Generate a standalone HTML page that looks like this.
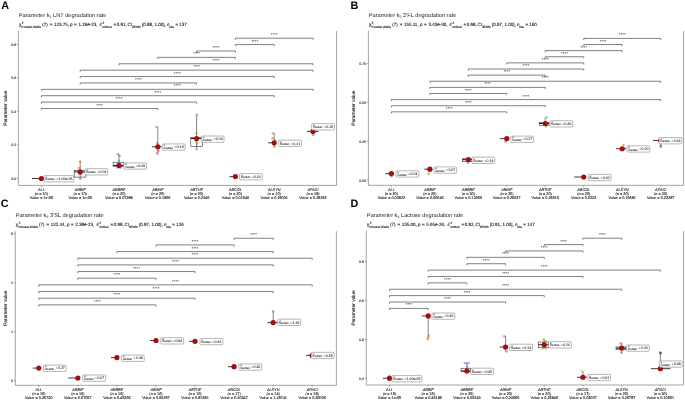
<!DOCTYPE html><html><head><meta charset="utf-8"><style>html,body{margin:0;padding:0;background:#fff;}svg{display:block;will-change:transform;}text{font-family:"Liberation Sans", sans-serif;text-rendering:geometricPrecision;}.sm{fill:#1a1a1a;stroke:#1a1a1a;stroke-width:0.1px;}</style></head><body>
<svg width="685" height="400" viewBox="0 0 685 400">
<rect width="685" height="400" fill="#fff"/>
<text x="1.2" y="8.9" font-size="10.8" font-weight="bold" fill="#000">A</text>
<text x="18.8" y="17.35" font-size="5.65" fill="#222">Parameter k<tspan font-size="3.6" dy="1">1</tspan><tspan dy="-1"> LNT degradation rate</tspan></text>
<text font-size="4.5" class="sm"><tspan x="18.9" y="26.4">χ</tspan><tspan x="21.8" y="24.1" font-size="3.1">2</tspan><tspan x="21.6" y="27.5" font-size="3.1">Kruskal-Wallis</tspan><tspan x="42.2" y="26.4">(7)</tspan><tspan x="49.7" y="26.4">=</tspan><tspan x="53.9" y="26.4">123.75,</tspan><tspan x="70" y="26.4" font-style="italic">p</tspan><tspan x="74" y="26.4">=</tspan><tspan x="78.4" y="26.4">1.26e-23,</tspan><tspan x="99.5" y="26.4">ε̂</tspan><tspan x="102.5" y="24.1" font-size="3.1">2</tspan><tspan x="102.3" y="27.5" font-size="3.1">ordinal</tspan><tspan x="113.5" y="26.4">=</tspan><tspan x="116.8" y="26.4">0.91,</tspan><tspan x="127.5" y="26.4">CI</tspan><tspan x="131.9" y="27.5" font-size="3.1">95%%</tspan><tspan x="142" y="26.4">[0.88, 1.00],</tspan><tspan x="167.1" y="26.4" font-style="italic">n</tspan><tspan x="169.1" y="27.5" font-size="3.1">obs</tspan><tspan x="175.4" y="26.4">=</tspan><tspan x="179.3" y="26.4">137</tspan></text>
<path d="M18.4 31V185.4H336.6V31" fill="none" stroke="#9a9a9a" stroke-width="0.9"/>
<path d="M17 178.4H18.4" stroke="#777" stroke-width="0.7"/>
<text x="16.2" y="179.7" font-size="3.6" class="sm" text-anchor="end">0.0</text>
<path d="M17 144.9H18.4" stroke="#777" stroke-width="0.7"/>
<text x="16.2" y="146.2" font-size="3.6" class="sm" text-anchor="end">0.2</text>
<path d="M17 111.4H18.4" stroke="#777" stroke-width="0.7"/>
<text x="16.2" y="112.7" font-size="3.6" class="sm" text-anchor="end">0.4</text>
<path d="M17 77.9H18.4" stroke="#777" stroke-width="0.7"/>
<text x="16.2" y="79.2" font-size="3.6" class="sm" text-anchor="end">0.6</text>
<path d="M17 44.4H18.4" stroke="#777" stroke-width="0.7"/>
<text x="16.2" y="45.7" font-size="3.6" class="sm" text-anchor="end">0.8</text>
<text x="0" y="0" font-size="4.8" class="sm" text-anchor="middle" transform="translate(6.9 108.2) rotate(-90)">Parameter value</text>
<path d="M41.4 185.4V186.8" stroke="#777" stroke-width="0.7"/>
<text x="41.4" y="190.9" font-size="3.8" class="sm" font-style="italic" text-anchor="middle">ALL</text>
<text x="41.4" y="195.1" font-size="3.8" class="sm" text-anchor="middle">(<tspan font-style="italic">n</tspan> = 10)</text>
<text x="41.4" y="199.2" font-size="3.8" class="sm" text-anchor="middle">Value = 1e-05</text>
<path d="M80.2 185.4V186.8" stroke="#777" stroke-width="0.7"/>
<text x="80.2" y="190.9" font-size="3.8" class="sm" font-style="italic" text-anchor="middle">ΔBBIF</text>
<text x="80.2" y="195.1" font-size="3.8" class="sm" text-anchor="middle">(<tspan font-style="italic">n</tspan> = 10)</text>
<text x="80.2" y="199.2" font-size="3.8" class="sm" text-anchor="middle">Value = 1e-05</text>
<path d="M119 185.4V186.8" stroke="#777" stroke-width="0.7"/>
<text x="119" y="190.9" font-size="3.8" class="sm" font-style="italic" text-anchor="middle">ΔBBRE</text>
<text x="119" y="195.1" font-size="3.8" class="sm" text-anchor="middle">(<tspan font-style="italic">n</tspan> = 20)</text>
<text x="119" y="199.2" font-size="3.8" class="sm" text-anchor="middle">Value = 0.07288</text>
<path d="M157.8 185.4V186.8" stroke="#777" stroke-width="0.7"/>
<text x="157.8" y="190.9" font-size="3.8" class="sm" font-style="italic" text-anchor="middle">ΔBINF</text>
<text x="157.8" y="195.1" font-size="3.8" class="sm" text-anchor="middle">(<tspan font-style="italic">n</tspan> = 20)</text>
<text x="157.8" y="199.2" font-size="3.8" class="sm" text-anchor="middle">Value = 0.1859</text>
<path d="M196.6 185.4V186.8" stroke="#777" stroke-width="0.7"/>
<text x="196.6" y="190.9" font-size="3.8" class="sm" font-style="italic" text-anchor="middle">ΔBTHE</text>
<text x="196.6" y="195.1" font-size="3.8" class="sm" text-anchor="middle">(<tspan font-style="italic">n</tspan> = 20)</text>
<text x="196.6" y="199.2" font-size="3.8" class="sm" text-anchor="middle">Value = 0.2346</text>
<path d="M235.4 185.4V186.8" stroke="#777" stroke-width="0.7"/>
<text x="235.4" y="190.9" font-size="3.8" class="sm" font-style="italic" text-anchor="middle">ΔBCOL</text>
<text x="235.4" y="195.1" font-size="3.8" class="sm" text-anchor="middle">(<tspan font-style="italic">n</tspan> = 20)</text>
<text x="235.4" y="199.2" font-size="3.8" class="sm" text-anchor="middle">Value = 0.01646</text>
<path d="M274.2 185.4V186.8" stroke="#777" stroke-width="0.7"/>
<text x="274.2" y="190.9" font-size="3.8" class="sm" font-style="italic" text-anchor="middle">ΔLSYN</text>
<text x="274.2" y="195.1" font-size="3.8" class="sm" text-anchor="middle">(<tspan font-style="italic">n</tspan> = 10)</text>
<text x="274.2" y="199.2" font-size="3.8" class="sm" text-anchor="middle">Value = 0.25001</text>
<path d="M313 185.4V186.8" stroke="#777" stroke-width="0.7"/>
<text x="313" y="190.9" font-size="3.8" class="sm" font-style="italic" text-anchor="middle">ΔPACI</text>
<text x="313" y="195.1" font-size="3.8" class="sm" text-anchor="middle">(<tspan font-style="italic">n</tspan> = 18)</text>
<text x="313" y="199.2" font-size="3.8" class="sm" text-anchor="middle">Value = 0.28252</text>
<path d="M235.4 39.8V38.2H313V39.8" fill="none" stroke="#555" stroke-width="0.75"/>
<text x="274.2" y="36.25" font-size="4.4" fill="#2a2a2a" text-anchor="middle">****</text>
<path d="M235.4 46.19V44.59H274.2V46.19" fill="none" stroke="#555" stroke-width="0.75"/>
<text x="254.8" y="42.64" font-size="4.4" fill="#2a2a2a" text-anchor="middle">****</text>
<path d="M196.6 52.58V50.98H235.4V52.58" fill="none" stroke="#555" stroke-width="0.75"/>
<text x="216" y="49.03" font-size="4.4" fill="#2a2a2a" text-anchor="middle">****</text>
<path d="M157.8 58.97V57.37H235.4V58.97" fill="none" stroke="#555" stroke-width="0.75"/>
<text x="196.6" y="55.42" font-size="4.4" fill="#2a2a2a" text-anchor="middle">****</text>
<path d="M119 65.36V63.76H313V65.36" fill="none" stroke="#555" stroke-width="0.75"/>
<text x="216" y="61.81" font-size="4.4" fill="#2a2a2a" text-anchor="middle">****</text>
<path d="M80.2 71.75V70.15H313V71.75" fill="none" stroke="#555" stroke-width="0.75"/>
<text x="196.6" y="68.2" font-size="4.4" fill="#2a2a2a" text-anchor="middle">****</text>
<path d="M80.2 78.14V76.54H274.2V78.14" fill="none" stroke="#555" stroke-width="0.75"/>
<text x="177.2" y="74.59" font-size="4.4" fill="#2a2a2a" text-anchor="middle">****</text>
<path d="M80.2 84.53V82.93H196.6V84.53" fill="none" stroke="#555" stroke-width="0.75"/>
<text x="138.4" y="80.98" font-size="4.4" fill="#2a2a2a" text-anchor="middle">****</text>
<path d="M41.4 90.92V89.32H313V90.92" fill="none" stroke="#555" stroke-width="0.75"/>
<text x="177.2" y="87.37" font-size="4.4" fill="#2a2a2a" text-anchor="middle">****</text>
<path d="M41.4 97.31V95.71H274.2V97.31" fill="none" stroke="#555" stroke-width="0.75"/>
<text x="157.8" y="93.76" font-size="4.4" fill="#2a2a2a" text-anchor="middle">****</text>
<path d="M41.4 103.7V102.1H196.6V103.7" fill="none" stroke="#555" stroke-width="0.75"/>
<text x="119" y="100.15" font-size="4.4" fill="#2a2a2a" text-anchor="middle">****</text>
<path d="M41.4 110.09V108.49H157.8V110.09" fill="none" stroke="#555" stroke-width="0.75"/>
<text x="99.6" y="106.54" font-size="4.4" fill="#2a2a2a" text-anchor="middle">****</text>
<path d="M31.9 178.5H41.5" stroke="#222" stroke-width="0.9"/>
<circle cx="41.4" cy="178.5" r="2.6" fill="#a30e0e"/>
<rect x="44" y="175.6" width="29.81" height="6.3" rx="0.9" fill="#fff" stroke="#858585" stroke-width="0.6"/>
<text fill="#1a1a1a" stroke="#1a1a1a" stroke-width="0.06"><tspan x="45.5" y="177.9" font-size="2.4">μ̂</tspan><tspan x="45.3" y="180.35" font-size="2.9">median</tspan><tspan x="56.2" y="179.9" font-size="3.5">=</tspan><tspan x="58.6" y="179.9" font-size="3.5">1.00e-05</tspan></text>
<rect x="74.2" y="170.4" width="11.7" height="6.7" fill="none" stroke="#333" stroke-width="0.6"/>
<path d="M80.2 161.5V178.7" stroke="#333" stroke-width="0.6"/>
<path d="M74.2 171.9H85.9" stroke="#1a1a1a" stroke-width="1"/>
<circle cx="80.2" cy="161.5" r="1.3" fill="#D95F02" fill-opacity="0.55"/>
<circle cx="78.9" cy="168" r="1.3" fill="#D95F02" fill-opacity="0.55"/>
<circle cx="80.2" cy="178.7" r="1.3" fill="#D95F02" fill-opacity="0.55"/>
<circle cx="80.2" cy="171.9" r="2.6" fill="#a30e0e"/>
<rect x="84.95" y="168.7" width="22.81" height="6.3" rx="0.9" fill="#fff" stroke="#858585" stroke-width="0.6"/>
<text fill="#1a1a1a" stroke="#1a1a1a" stroke-width="0.06"><tspan x="86.45" y="171" font-size="2.4">μ̂</tspan><tspan x="86.25" y="173.45" font-size="2.9">median</tspan><tspan x="97.15" y="173" font-size="3.5">=</tspan><tspan x="99.55" y="173" font-size="3.5">0.04</tspan></text>
<rect x="113.1" y="162.2" width="10.5" height="4.4" fill="none" stroke="#333" stroke-width="0.6"/>
<path d="M119 154V162.4" stroke="#333" stroke-width="0.6"/>
<path d="M113.1 165.4H123.6" stroke="#1a1a1a" stroke-width="1"/>
<circle cx="117.7" cy="154" r="1.3" fill="#7570B3" fill-opacity="0.55"/>
<circle cx="119.7" cy="155.8" r="1.3" fill="#7570B3" fill-opacity="0.55"/>
<circle cx="118.8" cy="160.9" r="1.3" fill="#7570B3" fill-opacity="0.55"/>
<circle cx="117.7" cy="167.8" r="1.3" fill="#7570B3" fill-opacity="0.55"/>
<circle cx="120.3" cy="167.8" r="1.3" fill="#7570B3" fill-opacity="0.55"/>
<circle cx="119" cy="165.4" r="2.6" fill="#a30e0e"/>
<rect x="123.75" y="162.9" width="22.81" height="6.3" rx="0.9" fill="#fff" stroke="#858585" stroke-width="0.6"/>
<text fill="#1a1a1a" stroke="#1a1a1a" stroke-width="0.06"><tspan x="125.25" y="165.2" font-size="2.4">μ̂</tspan><tspan x="125.05" y="167.65" font-size="2.9">median</tspan><tspan x="135.95" y="167.2" font-size="3.5">=</tspan><tspan x="138.35" y="167.2" font-size="3.5">0.08</tspan></text>
<path d="M157.8 127V153.5" stroke="#333" stroke-width="0.6"/>
<path d="M151.9 146.8H161.8" stroke="#222" stroke-width="0.9"/>
<circle cx="156.6" cy="127" r="1.3" fill="#E7298A" fill-opacity="0.55"/>
<circle cx="157.3" cy="143.2" r="1.3" fill="#E7298A" fill-opacity="0.55"/>
<circle cx="158.4" cy="150.8" r="1.3" fill="#E7298A" fill-opacity="0.55"/>
<circle cx="157.1" cy="153.5" r="1.3" fill="#E7298A" fill-opacity="0.55"/>
<circle cx="157.8" cy="146.8" r="2.6" fill="#a30e0e"/>
<rect x="162.25" y="143.9" width="22.81" height="6.3" rx="0.9" fill="#fff" stroke="#858585" stroke-width="0.6"/>
<text fill="#1a1a1a" stroke="#1a1a1a" stroke-width="0.06"><tspan x="163.75" y="146.2" font-size="2.4">μ̂</tspan><tspan x="163.55" y="148.65" font-size="2.9">median</tspan><tspan x="174.45" y="148.2" font-size="3.5">=</tspan><tspan x="176.85" y="148.2" font-size="3.5">0.19</tspan></text>
<rect x="190.8" y="137.3" width="11.5" height="9.2" fill="none" stroke="#333" stroke-width="0.6"/>
<path d="M196.6 114.7V148.7" stroke="#333" stroke-width="0.6"/>
<path d="M190.8 138.5H202.3" stroke="#1a1a1a" stroke-width="1"/>
<circle cx="196.9" cy="114.7" r="1.3" fill="#66A61E" fill-opacity="0.55"/>
<circle cx="196.6" cy="133.5" r="1.3" fill="#66A61E" fill-opacity="0.55"/>
<circle cx="196.1" cy="141.5" r="1.3" fill="#66A61E" fill-opacity="0.55"/>
<circle cx="197.4" cy="143.5" r="1.3" fill="#66A61E" fill-opacity="0.55"/>
<circle cx="196.6" cy="149.2" r="1.3" fill="#66A61E" fill-opacity="0.55"/>
<circle cx="196.6" cy="138.5" r="2.6" fill="#a30e0e"/>
<rect x="201.25" y="136" width="22.81" height="6.3" rx="0.9" fill="#fff" stroke="#858585" stroke-width="0.6"/>
<text fill="#1a1a1a" stroke="#1a1a1a" stroke-width="0.06"><tspan x="202.75" y="138.3" font-size="2.4">μ̂</tspan><tspan x="202.55" y="140.75" font-size="2.9">median</tspan><tspan x="213.45" y="140.3" font-size="3.5">=</tspan><tspan x="215.85" y="140.3" font-size="3.5">0.24</tspan></text>
<path d="M229.5 176.6H235.2" stroke="#222" stroke-width="0.9"/>
<circle cx="235.4" cy="176.6" r="2.6" fill="#a30e0e"/>
<rect x="239.6" y="173.6" width="22.81" height="6.3" rx="0.9" fill="#fff" stroke="#858585" stroke-width="0.6"/>
<text fill="#1a1a1a" stroke="#1a1a1a" stroke-width="0.06"><tspan x="241.1" y="175.9" font-size="2.4">μ̂</tspan><tspan x="240.9" y="178.35" font-size="2.9">median</tspan><tspan x="251.8" y="177.9" font-size="3.5">=</tspan><tspan x="254.2" y="177.9" font-size="3.5">0.01</tspan></text>
<path d="M274.2 133.2V146.4" stroke="#333" stroke-width="0.6"/>
<path d="M268.1 142.8H274.3" stroke="#222" stroke-width="0.9"/>
<circle cx="272.9" cy="133.2" r="1.3" fill="#A6761D" fill-opacity="0.55"/>
<circle cx="272.6" cy="138.4" r="1.3" fill="#A6761D" fill-opacity="0.55"/>
<circle cx="274.5" cy="146.4" r="1.3" fill="#A6761D" fill-opacity="0.55"/>
<circle cx="275.2" cy="140.5" r="1.3" fill="#A6761D" fill-opacity="0.55"/>
<circle cx="274.2" cy="142.8" r="2.6" fill="#a30e0e"/>
<rect x="278.7" y="140.2" width="22.81" height="6.3" rx="0.9" fill="#fff" stroke="#858585" stroke-width="0.6"/>
<text fill="#1a1a1a" stroke="#1a1a1a" stroke-width="0.06"><tspan x="280.2" y="142.5" font-size="2.4">μ̂</tspan><tspan x="280" y="144.95" font-size="2.9">median</tspan><tspan x="290.9" y="144.5" font-size="3.5">=</tspan><tspan x="293.3" y="144.5" font-size="3.5">0.21</tspan></text>
<path d="M307 131.4H318.7" stroke="#222" stroke-width="0.9"/>
<circle cx="313.3" cy="134.9" r="1.3" fill="#666666" fill-opacity="0.55"/>
<circle cx="313" cy="131.4" r="2.6" fill="#a30e0e"/>
<rect x="311.7" y="123.7" width="22.81" height="6.3" rx="0.9" fill="#fff" stroke="#858585" stroke-width="0.6"/>
<text fill="#1a1a1a" stroke="#1a1a1a" stroke-width="0.06"><tspan x="313.2" y="126" font-size="2.4">μ̂</tspan><tspan x="313" y="128.45" font-size="2.9">median</tspan><tspan x="323.9" y="128" font-size="3.5">=</tspan><tspan x="326.3" y="128" font-size="3.5">0.28</tspan></text>
<text x="350.4" y="9" font-size="10.8" font-weight="bold" fill="#000">B</text>
<text x="368.8" y="17.35" font-size="5.65" fill="#222">Parameter k<tspan font-size="3.6" dy="1">2</tspan><tspan dy="-1"> 2'FL degradation rate</tspan></text>
<text font-size="4.5" class="sm"><tspan x="368.9" y="26.4">χ</tspan><tspan x="371.8" y="24.1" font-size="3.1">2</tspan><tspan x="371.6" y="27.5" font-size="3.1">Kruskal-Wallis</tspan><tspan x="392.2" y="26.4">(7)</tspan><tspan x="399.7" y="26.4">=</tspan><tspan x="403.9" y="26.4">155.11,</tspan><tspan x="420" y="26.4" font-style="italic">p</tspan><tspan x="424" y="26.4">=</tspan><tspan x="428.4" y="26.4">3.43e-30,</tspan><tspan x="449.5" y="26.4">ε̂</tspan><tspan x="452.5" y="24.1" font-size="3.1">2</tspan><tspan x="452.3" y="27.5" font-size="3.1">ordinal</tspan><tspan x="463.5" y="26.4">=</tspan><tspan x="466.8" y="26.4">0.98,</tspan><tspan x="477.5" y="26.4">CI</tspan><tspan x="481.9" y="27.5" font-size="3.1">95%%</tspan><tspan x="492" y="26.4">[0.97, 1.00],</tspan><tspan x="517.1" y="26.4" font-style="italic">n</tspan><tspan x="519.1" y="27.5" font-size="3.1">obs</tspan><tspan x="525.4" y="26.4">=</tspan><tspan x="529.3" y="26.4">160</tspan></text>
<path d="M368.4 30.9V185.3H683.6V30.9" fill="none" stroke="#9a9a9a" stroke-width="0.9"/>
<path d="M367 180.2H368.4" stroke="#777" stroke-width="0.7"/>
<text x="366.2" y="181.5" font-size="3.6" class="sm" text-anchor="end">0.00</text>
<path d="M367 141.32H368.4" stroke="#777" stroke-width="0.7"/>
<text x="366.2" y="142.62" font-size="3.6" class="sm" text-anchor="end">0.25</text>
<path d="M367 102.45H368.4" stroke="#777" stroke-width="0.7"/>
<text x="366.2" y="103.75" font-size="3.6" class="sm" text-anchor="end">0.50</text>
<path d="M367 63.57H368.4" stroke="#777" stroke-width="0.7"/>
<text x="366.2" y="64.87" font-size="3.6" class="sm" text-anchor="end">0.75</text>
<text x="0" y="0" font-size="4.8" class="sm" text-anchor="middle" transform="translate(354.5 108.1) rotate(-90)">Parameter value</text>
<path d="M391.4 185.3V186.7" stroke="#777" stroke-width="0.7"/>
<text x="391.4" y="190.8" font-size="3.8" class="sm" font-style="italic" text-anchor="middle">ALL</text>
<text x="391.4" y="195" font-size="3.8" class="sm" text-anchor="middle">(<tspan font-style="italic">n</tspan> = 20)</text>
<text x="391.4" y="199.1" font-size="3.8" class="sm" text-anchor="middle">Value = 0.03822</text>
<path d="M429.87 185.3V186.7" stroke="#777" stroke-width="0.7"/>
<text x="429.87" y="190.8" font-size="3.8" class="sm" font-style="italic" text-anchor="middle">ΔBBIF</text>
<text x="429.87" y="195" font-size="3.8" class="sm" text-anchor="middle">(<tspan font-style="italic">n</tspan> = 20)</text>
<text x="429.87" y="199.1" font-size="3.8" class="sm" text-anchor="middle">Value = 0.06045</text>
<path d="M468.34 185.3V186.7" stroke="#777" stroke-width="0.7"/>
<text x="468.34" y="190.8" font-size="3.8" class="sm" font-style="italic" text-anchor="middle">ΔBBRE</text>
<text x="468.34" y="195" font-size="3.8" class="sm" text-anchor="middle">(<tspan font-style="italic">n</tspan> = 20)</text>
<text x="468.34" y="199.1" font-size="3.8" class="sm" text-anchor="middle">Value = 0.13066</text>
<path d="M506.81 185.3V186.7" stroke="#777" stroke-width="0.7"/>
<text x="506.81" y="190.8" font-size="3.8" class="sm" font-style="italic" text-anchor="middle">ΔBINF</text>
<text x="506.81" y="195" font-size="3.8" class="sm" text-anchor="middle">(<tspan font-style="italic">n</tspan> = 20)</text>
<text x="506.81" y="199.1" font-size="3.8" class="sm" text-anchor="middle">Value = 0.26527</text>
<path d="M545.28 185.3V186.7" stroke="#777" stroke-width="0.7"/>
<text x="545.28" y="190.8" font-size="3.8" class="sm" font-style="italic" text-anchor="middle">ΔBTHE</text>
<text x="545.28" y="195" font-size="3.8" class="sm" text-anchor="middle">(<tspan font-style="italic">n</tspan> = 20)</text>
<text x="545.28" y="199.1" font-size="3.8" class="sm" text-anchor="middle">Value = 0.35916</text>
<path d="M583.75 185.3V186.7" stroke="#777" stroke-width="0.7"/>
<text x="583.75" y="190.8" font-size="3.8" class="sm" font-style="italic" text-anchor="middle">ΔBCOL</text>
<text x="583.75" y="195" font-size="3.8" class="sm" text-anchor="middle">(<tspan font-style="italic">n</tspan> = 20)</text>
<text x="583.75" y="199.1" font-size="3.8" class="sm" text-anchor="middle">Value = 0.0202</text>
<path d="M622.22 185.3V186.7" stroke="#777" stroke-width="0.7"/>
<text x="622.22" y="190.8" font-size="3.8" class="sm" font-style="italic" text-anchor="middle">ΔLSYN</text>
<text x="622.22" y="195" font-size="3.8" class="sm" text-anchor="middle">(<tspan font-style="italic">n</tspan> = 20)</text>
<text x="622.22" y="199.1" font-size="3.8" class="sm" text-anchor="middle">Value = 0.19681</text>
<path d="M660.69 185.3V186.7" stroke="#777" stroke-width="0.7"/>
<text x="660.69" y="190.8" font-size="3.8" class="sm" font-style="italic" text-anchor="middle">ΔPACI</text>
<text x="660.69" y="195" font-size="3.8" class="sm" text-anchor="middle">(<tspan font-style="italic">n</tspan> = 20)</text>
<text x="660.69" y="199.1" font-size="3.8" class="sm" text-anchor="middle">Value = 0.23287</text>
<path d="M583.75 40V38.4H660.69V40" fill="none" stroke="#555" stroke-width="0.75"/>
<text x="622.22" y="36.45" font-size="4.4" fill="#2a2a2a" text-anchor="middle">****</text>
<path d="M583.75 46.12V44.52H622.22V46.12" fill="none" stroke="#555" stroke-width="0.75"/>
<text x="602.99" y="42.57" font-size="4.4" fill="#2a2a2a" text-anchor="middle">****</text>
<path d="M545.28 52.24V50.64H622.22V52.24" fill="none" stroke="#555" stroke-width="0.75"/>
<text x="583.75" y="48.69" font-size="4.4" fill="#2a2a2a" text-anchor="middle">****</text>
<path d="M545.28 58.36V56.76H583.75V58.36" fill="none" stroke="#555" stroke-width="0.75"/>
<text x="564.51" y="54.81" font-size="4.4" fill="#2a2a2a" text-anchor="middle">****</text>
<path d="M506.81 64.48V62.88H583.75V64.48" fill="none" stroke="#555" stroke-width="0.75"/>
<text x="545.28" y="60.93" font-size="4.4" fill="#2a2a2a" text-anchor="middle">****</text>
<path d="M468.34 70.6V69H583.75V70.6" fill="none" stroke="#555" stroke-width="0.75"/>
<text x="526.04" y="67.05" font-size="4.4" fill="#2a2a2a" text-anchor="middle">****</text>
<path d="M468.34 76.72V75.12H545.28V76.72" fill="none" stroke="#555" stroke-width="0.75"/>
<text x="506.81" y="73.17" font-size="4.4" fill="#2a2a2a" text-anchor="middle">****</text>
<path d="M429.87 82.84V81.24H660.69V82.84" fill="none" stroke="#555" stroke-width="0.75"/>
<text x="545.28" y="79.29" font-size="4.4" fill="#2a2a2a" text-anchor="middle">****</text>
<path d="M429.87 88.96V87.36H545.28V88.96" fill="none" stroke="#555" stroke-width="0.75"/>
<text x="487.57" y="85.41" font-size="4.4" fill="#2a2a2a" text-anchor="middle">****</text>
<path d="M429.87 95.08V93.48H506.81V95.08" fill="none" stroke="#555" stroke-width="0.75"/>
<text x="468.34" y="91.53" font-size="4.4" fill="#2a2a2a" text-anchor="middle">****</text>
<path d="M391.4 101.2V99.6H660.69V101.2" fill="none" stroke="#555" stroke-width="0.75"/>
<text x="526.04" y="97.65" font-size="4.4" fill="#2a2a2a" text-anchor="middle">****</text>
<path d="M391.4 107.32V105.72H545.28V107.32" fill="none" stroke="#555" stroke-width="0.75"/>
<text x="468.34" y="103.77" font-size="4.4" fill="#2a2a2a" text-anchor="middle">****</text>
<path d="M391.4 113.44V111.84H506.81V113.44" fill="none" stroke="#555" stroke-width="0.75"/>
<text x="449.1" y="109.89" font-size="4.4" fill="#2a2a2a" text-anchor="middle">****</text>
<path d="M385.3 173.6H391.2" stroke="#222" stroke-width="0.9"/>
<circle cx="391.6" cy="176.2" r="1.3" fill="#1B9E77" fill-opacity="0.55"/>
<circle cx="391.4" cy="173.6" r="2.6" fill="#a30e0e"/>
<rect x="396" y="170.8" width="22.81" height="6.3" rx="0.9" fill="#fff" stroke="#858585" stroke-width="0.6"/>
<text fill="#1a1a1a" stroke="#1a1a1a" stroke-width="0.06"><tspan x="397.5" y="173.1" font-size="2.4">μ̂</tspan><tspan x="397.3" y="175.55" font-size="2.9">median</tspan><tspan x="408.2" y="175.1" font-size="3.5">=</tspan><tspan x="410.6" y="175.1" font-size="3.5">0.04</tspan></text>
<path d="M424.3 169.2H430" stroke="#222" stroke-width="0.9"/>
<circle cx="428.57" cy="173.9" r="1.3" fill="#D95F02" fill-opacity="0.55"/>
<circle cx="429.87" cy="169.2" r="2.6" fill="#a30e0e"/>
<rect x="433.8" y="166.9" width="22.81" height="6.3" rx="0.9" fill="#fff" stroke="#858585" stroke-width="0.6"/>
<text fill="#1a1a1a" stroke="#1a1a1a" stroke-width="0.06"><tspan x="435.3" y="169.2" font-size="2.4">μ̂</tspan><tspan x="435.1" y="171.65" font-size="2.9">median</tspan><tspan x="446" y="171.2" font-size="3.5">=</tspan><tspan x="448.4" y="171.2" font-size="3.5">0.07</tspan></text>
<rect x="462.3" y="158.8" width="9.9" height="2.9" fill="none" stroke="#333" stroke-width="0.6"/>
<path d="M462.3 159.7H472.2" stroke="#1a1a1a" stroke-width="1"/>
<circle cx="467.84" cy="162.9" r="1.3" fill="#7570B3" fill-opacity="0.55"/>
<circle cx="468.34" cy="159.7" r="2.6" fill="#a30e0e"/>
<rect x="472" y="157.2" width="22.81" height="6.3" rx="0.9" fill="#fff" stroke="#858585" stroke-width="0.6"/>
<text fill="#1a1a1a" stroke="#1a1a1a" stroke-width="0.06"><tspan x="473.5" y="159.5" font-size="2.4">μ̂</tspan><tspan x="473.3" y="161.95" font-size="2.9">median</tspan><tspan x="484.2" y="161.5" font-size="3.5">=</tspan><tspan x="486.6" y="161.5" font-size="3.5">0.13</tspan></text>
<path d="M500.1 138.6H506.8" stroke="#222" stroke-width="0.9"/>
<circle cx="505.41" cy="141.5" r="1.3" fill="#E7298A" fill-opacity="0.55"/>
<circle cx="506.81" cy="138.6" r="2.6" fill="#a30e0e"/>
<rect x="510.8" y="136.1" width="22.81" height="6.3" rx="0.9" fill="#fff" stroke="#858585" stroke-width="0.6"/>
<text fill="#1a1a1a" stroke="#1a1a1a" stroke-width="0.06"><tspan x="512.3" y="138.4" font-size="2.4">μ̂</tspan><tspan x="512.1" y="140.85" font-size="2.9">median</tspan><tspan x="523" y="140.4" font-size="3.5">=</tspan><tspan x="525.4" y="140.4" font-size="3.5">0.27</tspan></text>
<rect x="539.25" y="122.5" width="9.75" height="3" fill="none" stroke="#333" stroke-width="0.6"/>
<path d="M545.28 117.5V123.5" stroke="#333" stroke-width="0.6"/>
<path d="M539.25 123.5H549" stroke="#1a1a1a" stroke-width="1"/>
<circle cx="546.78" cy="117.25" r="1.3" fill="#66A61E" fill-opacity="0.55"/>
<circle cx="546.08" cy="126.5" r="1.3" fill="#66A61E" fill-opacity="0.55"/>
<circle cx="545.28" cy="123.5" r="2.6" fill="#a30e0e"/>
<rect x="550" y="120.7" width="22.81" height="6.3" rx="0.9" fill="#fff" stroke="#858585" stroke-width="0.6"/>
<text fill="#1a1a1a" stroke="#1a1a1a" stroke-width="0.06"><tspan x="551.5" y="123" font-size="2.4">μ̂</tspan><tspan x="551.3" y="125.45" font-size="2.9">median</tspan><tspan x="562.2" y="125" font-size="3.5">=</tspan><tspan x="564.6" y="125" font-size="3.5">0.36</tspan></text>
<path d="M574.3 177H583.7" stroke="#222" stroke-width="0.9"/>
<circle cx="583.75" cy="177" r="2.6" fill="#a30e0e"/>
<rect x="588.3" y="174.4" width="22.81" height="6.3" rx="0.9" fill="#fff" stroke="#858585" stroke-width="0.6"/>
<text fill="#1a1a1a" stroke="#1a1a1a" stroke-width="0.06"><tspan x="589.8" y="176.7" font-size="2.4">μ̂</tspan><tspan x="589.6" y="179.15" font-size="2.9">median</tspan><tspan x="600.5" y="178.7" font-size="3.5">=</tspan><tspan x="602.9" y="178.7" font-size="3.5">0.02</tspan></text>
<path d="M616 148.75H626" stroke="#222" stroke-width="0.9"/>
<circle cx="623.42" cy="145" r="1.3" fill="#A6761D" fill-opacity="0.55"/>
<circle cx="622.22" cy="148.75" r="2.6" fill="#a30e0e"/>
<rect x="627" y="145.8" width="22.81" height="6.3" rx="0.9" fill="#fff" stroke="#858585" stroke-width="0.6"/>
<text fill="#1a1a1a" stroke="#1a1a1a" stroke-width="0.06"><tspan x="628.5" y="148.1" font-size="2.4">μ̂</tspan><tspan x="628.3" y="150.55" font-size="2.9">median</tspan><tspan x="639.2" y="150.1" font-size="3.5">=</tspan><tspan x="641.6" y="150.1" font-size="3.5">0.20</tspan></text>
<path d="M660.69 140.5V146.6" stroke="#333" stroke-width="0.6"/>
<path d="M653 140.5H661" stroke="#222" stroke-width="0.9"/>
<circle cx="660.89" cy="146.4" r="1.3" fill="#333" fill-opacity="0.55"/>
<circle cx="660.69" cy="140.5" r="2.6" fill="#a30e0e"/>
<rect x="659.1" y="137.6" width="22.81" height="6.3" rx="0.9" fill="#fff" stroke="#858585" stroke-width="0.6"/>
<text fill="#1a1a1a" stroke="#1a1a1a" stroke-width="0.06"><tspan x="660.6" y="139.9" font-size="2.4">μ̂</tspan><tspan x="660.4" y="142.35" font-size="2.9">median</tspan><tspan x="671.3" y="141.9" font-size="3.5">=</tspan><tspan x="673.7" y="141.9" font-size="3.5">0.23</tspan></text>
<text x="0.7" y="207.2" font-size="10.8" font-weight="bold" fill="#000">C</text>
<text x="15.7" y="217.35" font-size="5.65" fill="#222">Parameter k<tspan font-size="3.6" dy="1">3</tspan><tspan dy="-1"> 3'SL degradation rate</tspan></text>
<text font-size="4.5" class="sm"><tspan x="15.8" y="226.4">χ</tspan><tspan x="18.7" y="224.1" font-size="3.1">2</tspan><tspan x="18.5" y="227.5" font-size="3.1">Kruskal-Wallis</tspan><tspan x="39.1" y="226.4">(7)</tspan><tspan x="46.6" y="226.4">=</tspan><tspan x="50.8" y="226.4">122.44,</tspan><tspan x="66.9" y="226.4" font-style="italic">p</tspan><tspan x="70.9" y="226.4">=</tspan><tspan x="75.3" y="226.4">2.38e-23,</tspan><tspan x="96.4" y="226.4">ε̂</tspan><tspan x="99.4" y="224.1" font-size="3.1">2</tspan><tspan x="99.2" y="227.5" font-size="3.1">ordinal</tspan><tspan x="110.4" y="226.4">=</tspan><tspan x="113.7" y="226.4">0.98,</tspan><tspan x="124.4" y="226.4">CI</tspan><tspan x="128.8" y="227.5" font-size="3.1">95%%</tspan><tspan x="138.9" y="226.4">[0.97, 1.00],</tspan><tspan x="164" y="226.4" font-style="italic">n</tspan><tspan x="166" y="227.5" font-size="3.1">obs</tspan><tspan x="172.3" y="226.4">=</tspan><tspan x="176.2" y="226.4">126</tspan></text>
<path d="M15.3 231.3V385.3H336.4V231.3" fill="none" stroke="#9a9a9a" stroke-width="0.9"/>
<path d="M13.9 380.9H15.3" stroke="#777" stroke-width="0.7"/>
<text x="13.1" y="382.2" font-size="3.6" class="sm" text-anchor="end">0</text>
<path d="M13.9 331.83H15.3" stroke="#777" stroke-width="0.7"/>
<text x="13.1" y="333.13" font-size="3.6" class="sm" text-anchor="end">1</text>
<path d="M13.9 282.76H15.3" stroke="#777" stroke-width="0.7"/>
<text x="13.1" y="284.06" font-size="3.6" class="sm" text-anchor="end">2</text>
<path d="M13.9 233.69H15.3" stroke="#777" stroke-width="0.7"/>
<text x="13.1" y="234.99" font-size="3.6" class="sm" text-anchor="end">3</text>
<text x="0" y="0" font-size="4.8" class="sm" text-anchor="middle" transform="translate(6.9 308.3) rotate(-90)">Parameter value</text>
<path d="M38.8 385.3V386.7" stroke="#777" stroke-width="0.7"/>
<text x="38.8" y="390.8" font-size="3.8" class="sm" font-style="italic" text-anchor="middle">ALL</text>
<text x="38.8" y="395" font-size="3.8" class="sm" text-anchor="middle">(<tspan font-style="italic">n</tspan> = 16)</text>
<text x="38.8" y="399.1" font-size="3.8" class="sm" text-anchor="middle">Value = 0.26730</text>
<path d="M77.86 385.3V386.7" stroke="#777" stroke-width="0.7"/>
<text x="77.86" y="390.8" font-size="3.8" class="sm" font-style="italic" text-anchor="middle">ΔBBIF</text>
<text x="77.86" y="395" font-size="3.8" class="sm" text-anchor="middle">(<tspan font-style="italic">n</tspan> = 16)</text>
<text x="77.86" y="399.1" font-size="3.8" class="sm" text-anchor="middle">Value = 0.07057</text>
<path d="M116.92 385.3V386.7" stroke="#777" stroke-width="0.7"/>
<text x="116.92" y="390.8" font-size="3.8" class="sm" font-style="italic" text-anchor="middle">ΔBBRE</text>
<text x="116.92" y="395" font-size="3.8" class="sm" text-anchor="middle">(<tspan font-style="italic">n</tspan> = 16)</text>
<text x="116.92" y="399.1" font-size="3.8" class="sm" text-anchor="middle">Value = 0.45366</text>
<path d="M155.98 385.3V386.7" stroke="#777" stroke-width="0.7"/>
<text x="155.98" y="390.8" font-size="3.8" class="sm" font-style="italic" text-anchor="middle">ΔBINF</text>
<text x="155.98" y="395" font-size="3.8" class="sm" text-anchor="middle">(<tspan font-style="italic">n</tspan> = 16)</text>
<text x="155.98" y="399.1" font-size="3.8" class="sm" text-anchor="middle">Value = 0.83297</text>
<path d="M195.04 385.3V386.7" stroke="#777" stroke-width="0.7"/>
<text x="195.04" y="390.8" font-size="3.8" class="sm" font-style="italic" text-anchor="middle">ΔBTHE</text>
<text x="195.04" y="395" font-size="3.8" class="sm" text-anchor="middle">(<tspan font-style="italic">n</tspan> = 10)</text>
<text x="195.04" y="399.1" font-size="3.8" class="sm" text-anchor="middle">Value = 0.81581</text>
<path d="M234.1 385.3V386.7" stroke="#777" stroke-width="0.7"/>
<text x="234.1" y="390.8" font-size="3.8" class="sm" font-style="italic" text-anchor="middle">ΔBCOL</text>
<text x="234.1" y="395" font-size="3.8" class="sm" text-anchor="middle">(<tspan font-style="italic">n</tspan> = 17)</text>
<text x="234.1" y="399.1" font-size="3.8" class="sm" text-anchor="middle">Value = 0.30347</text>
<path d="M273.16 385.3V386.7" stroke="#777" stroke-width="0.7"/>
<text x="273.16" y="390.8" font-size="3.8" class="sm" font-style="italic" text-anchor="middle">ΔLSYN</text>
<text x="273.16" y="395" font-size="3.8" class="sm" text-anchor="middle">(<tspan font-style="italic">n</tspan> = 14)</text>
<text x="273.16" y="399.1" font-size="3.8" class="sm" text-anchor="middle">Value = 1.18741</text>
<path d="M312.22 385.3V386.7" stroke="#777" stroke-width="0.7"/>
<text x="312.22" y="390.8" font-size="3.8" class="sm" font-style="italic" text-anchor="middle">ΔPACI</text>
<text x="312.22" y="395" font-size="3.8" class="sm" text-anchor="middle">(<tspan font-style="italic">n</tspan> = 18)</text>
<text x="312.22" y="399.1" font-size="3.8" class="sm" text-anchor="middle">Value = 0.56006</text>
<path d="M234.1 239.85V238.25H273.16V239.85" fill="none" stroke="#555" stroke-width="0.75"/>
<text x="253.63" y="236.3" font-size="4.4" fill="#2a2a2a" text-anchor="middle">****</text>
<path d="M155.98 246.51V244.91H234.1V246.51" fill="none" stroke="#555" stroke-width="0.75"/>
<text x="195.04" y="242.96" font-size="4.4" fill="#2a2a2a" text-anchor="middle">****</text>
<path d="M116.92 253.17V251.57H273.16V253.17" fill="none" stroke="#555" stroke-width="0.75"/>
<text x="195.04" y="249.62" font-size="4.4" fill="#2a2a2a" text-anchor="middle">****</text>
<path d="M77.86 259.83V258.23H312.22V259.83" fill="none" stroke="#555" stroke-width="0.75"/>
<text x="195.04" y="256.28" font-size="4.4" fill="#2a2a2a" text-anchor="middle">****</text>
<path d="M77.86 266.49V264.89H273.16V266.49" fill="none" stroke="#555" stroke-width="0.75"/>
<text x="175.51" y="262.94" font-size="4.4" fill="#2a2a2a" text-anchor="middle">****</text>
<path d="M77.86 273.15V271.55H195.04V273.15" fill="none" stroke="#555" stroke-width="0.75"/>
<text x="136.45" y="269.6" font-size="4.4" fill="#2a2a2a" text-anchor="middle">****</text>
<path d="M77.86 279.81V278.21H155.98V279.81" fill="none" stroke="#555" stroke-width="0.75"/>
<text x="116.92" y="276.26" font-size="4.4" fill="#2a2a2a" text-anchor="middle">****</text>
<path d="M38.8 286.47V284.87H312.22V286.47" fill="none" stroke="#555" stroke-width="0.75"/>
<text x="175.51" y="282.92" font-size="4.4" fill="#2a2a2a" text-anchor="middle">****</text>
<path d="M38.8 293.13V291.53H273.16V293.13" fill="none" stroke="#555" stroke-width="0.75"/>
<text x="155.98" y="289.58" font-size="4.4" fill="#2a2a2a" text-anchor="middle">****</text>
<path d="M38.8 299.79V298.19H195.04V299.79" fill="none" stroke="#555" stroke-width="0.75"/>
<text x="116.92" y="296.24" font-size="4.4" fill="#2a2a2a" text-anchor="middle">****</text>
<path d="M38.8 306.45V304.85H155.98V306.45" fill="none" stroke="#555" stroke-width="0.75"/>
<text x="97.39" y="302.9" font-size="4.4" fill="#2a2a2a" text-anchor="middle">****</text>
<path d="M32.8 368.1H38.9" stroke="#222" stroke-width="0.9"/>
<circle cx="38.8" cy="368.1" r="2.6" fill="#a30e0e"/>
<rect x="43.4" y="365.1" width="22.81" height="6.3" rx="0.9" fill="#fff" stroke="#858585" stroke-width="0.6"/>
<text fill="#1a1a1a" stroke="#1a1a1a" stroke-width="0.06"><tspan x="44.9" y="367.4" font-size="2.4">μ̂</tspan><tspan x="44.7" y="369.85" font-size="2.9">median</tspan><tspan x="55.6" y="369.4" font-size="3.5">=</tspan><tspan x="58" y="369.4" font-size="3.5">0.27</tspan></text>
<path d="M68.3 378H78" stroke="#222" stroke-width="0.9"/>
<circle cx="77.86" cy="378" r="2.6" fill="#a30e0e"/>
<rect x="82.8" y="375" width="22.81" height="6.3" rx="0.9" fill="#fff" stroke="#858585" stroke-width="0.6"/>
<text fill="#1a1a1a" stroke="#1a1a1a" stroke-width="0.06"><tspan x="84.3" y="377.3" font-size="2.4">μ̂</tspan><tspan x="84.1" y="379.75" font-size="2.9">median</tspan><tspan x="95" y="379.3" font-size="3.5">=</tspan><tspan x="97.4" y="379.3" font-size="3.5">0.07</tspan></text>
<path d="M111 357.6H117.2" stroke="#222" stroke-width="0.9"/>
<circle cx="116.92" cy="357.6" r="2.6" fill="#a30e0e"/>
<rect x="121.4" y="355.1" width="22.81" height="6.3" rx="0.9" fill="#fff" stroke="#858585" stroke-width="0.6"/>
<text fill="#1a1a1a" stroke="#1a1a1a" stroke-width="0.06"><tspan x="122.9" y="357.4" font-size="2.4">μ̂</tspan><tspan x="122.7" y="359.85" font-size="2.9">median</tspan><tspan x="133.6" y="359.4" font-size="3.5">=</tspan><tspan x="136" y="359.4" font-size="3.5">0.48</tspan></text>
<path d="M150 340.5H156.6" stroke="#222" stroke-width="0.9"/>
<circle cx="155.98" cy="340.5" r="2.6" fill="#a30e0e"/>
<rect x="160.8" y="337.7" width="22.81" height="6.3" rx="0.9" fill="#fff" stroke="#858585" stroke-width="0.6"/>
<text fill="#1a1a1a" stroke="#1a1a1a" stroke-width="0.06"><tspan x="162.3" y="340" font-size="2.4">μ̂</tspan><tspan x="162.1" y="342.45" font-size="2.9">median</tspan><tspan x="173" y="342" font-size="3.5">=</tspan><tspan x="175.4" y="342" font-size="3.5">0.83</tspan></text>
<path d="M189 341.3H195.4" stroke="#222" stroke-width="0.9"/>
<circle cx="195.04" cy="341.3" r="2.6" fill="#a30e0e"/>
<rect x="200" y="338.4" width="22.81" height="6.3" rx="0.9" fill="#fff" stroke="#858585" stroke-width="0.6"/>
<text fill="#1a1a1a" stroke="#1a1a1a" stroke-width="0.06"><tspan x="201.5" y="340.7" font-size="2.4">μ̂</tspan><tspan x="201.3" y="343.15" font-size="2.9">median</tspan><tspan x="212.2" y="342.7" font-size="3.5">=</tspan><tspan x="214.6" y="342.7" font-size="3.5">0.81</tspan></text>
<path d="M228 366.7H234.5" stroke="#222" stroke-width="0.9"/>
<circle cx="234.1" cy="366.7" r="2.6" fill="#a30e0e"/>
<rect x="238.9" y="363.9" width="22.81" height="6.3" rx="0.9" fill="#fff" stroke="#858585" stroke-width="0.6"/>
<text fill="#1a1a1a" stroke="#1a1a1a" stroke-width="0.06"><tspan x="240.4" y="366.2" font-size="2.4">μ̂</tspan><tspan x="240.2" y="368.65" font-size="2.9">median</tspan><tspan x="251.1" y="368.2" font-size="3.5">=</tspan><tspan x="253.5" y="368.2" font-size="3.5">0.30</tspan></text>
<path d="M273.16 311.4V322.2" stroke="#333" stroke-width="0.6"/>
<path d="M267.5 322.6H278" stroke="#222" stroke-width="0.9"/>
<circle cx="273.16" cy="311.4" r="1.3" fill="#A6761D" fill-opacity="0.55"/>
<circle cx="273.16" cy="322.6" r="2.6" fill="#a30e0e"/>
<rect x="277.8" y="319.2" width="22.81" height="6.3" rx="0.9" fill="#fff" stroke="#858585" stroke-width="0.6"/>
<text fill="#1a1a1a" stroke="#1a1a1a" stroke-width="0.06"><tspan x="279.3" y="321.5" font-size="2.4">μ̂</tspan><tspan x="279.1" y="323.95" font-size="2.9">median</tspan><tspan x="290" y="323.5" font-size="3.5">=</tspan><tspan x="292.4" y="323.5" font-size="3.5">1.19</tspan></text>
<path d="M306 355.4H312.6" stroke="#222" stroke-width="0.9"/>
<circle cx="312.22" cy="355.4" r="2.6" fill="#a30e0e"/>
<rect x="311.2" y="352.3" width="22.81" height="6.3" rx="0.9" fill="#fff" stroke="#858585" stroke-width="0.6"/>
<text fill="#1a1a1a" stroke="#1a1a1a" stroke-width="0.06"><tspan x="312.7" y="354.6" font-size="2.4">μ̂</tspan><tspan x="312.5" y="357.05" font-size="2.9">median</tspan><tspan x="323.4" y="356.6" font-size="3.5">=</tspan><tspan x="325.8" y="356.6" font-size="3.5">0.55</tspan></text>
<text x="350.4" y="207" font-size="10.8" font-weight="bold" fill="#000">D</text>
<text x="366.7" y="217.35" font-size="5.65" fill="#222">Parameter k<tspan font-size="3.6" dy="1">4</tspan><tspan dy="-1"> Lactose degradation rate</tspan></text>
<text font-size="4.5" class="sm"><tspan x="366.8" y="226.4">χ</tspan><tspan x="369.7" y="224.1" font-size="3.1">2</tspan><tspan x="369.5" y="227.5" font-size="3.1">Kruskal-Wallis</tspan><tspan x="390.1" y="226.4">(7)</tspan><tspan x="397.6" y="226.4">=</tspan><tspan x="401.8" y="226.4">135.00,</tspan><tspan x="417.9" y="226.4" font-style="italic">p</tspan><tspan x="421.9" y="226.4">=</tspan><tspan x="426.3" y="226.4">5.65e-26,</tspan><tspan x="447.4" y="226.4">ε̂</tspan><tspan x="450.4" y="224.1" font-size="3.1">2</tspan><tspan x="450.2" y="227.5" font-size="3.1">ordinal</tspan><tspan x="461.4" y="226.4">=</tspan><tspan x="464.7" y="226.4">0.92,</tspan><tspan x="475.4" y="226.4">CI</tspan><tspan x="479.8" y="227.5" font-size="3.1">95%%</tspan><tspan x="489.9" y="226.4">[0.91, 1.00],</tspan><tspan x="515" y="226.4" font-style="italic">n</tspan><tspan x="517" y="227.5" font-size="3.1">obs</tspan><tspan x="523.3" y="226.4">=</tspan><tspan x="527.2" y="226.4">147</tspan></text>
<path d="M366.3 230.8V385H683.6V230.8" fill="none" stroke="#9a9a9a" stroke-width="0.9"/>
<path d="M364.9 378.4H366.3" stroke="#777" stroke-width="0.7"/>
<text x="364.1" y="379.7" font-size="3.6" class="sm" text-anchor="end">0.0</text>
<path d="M364.9 339.52H366.3" stroke="#777" stroke-width="0.7"/>
<text x="364.1" y="340.82" font-size="3.6" class="sm" text-anchor="end">0.3</text>
<path d="M364.9 300.64H366.3" stroke="#777" stroke-width="0.7"/>
<text x="364.1" y="301.94" font-size="3.6" class="sm" text-anchor="end">0.6</text>
<path d="M364.9 261.76H366.3" stroke="#777" stroke-width="0.7"/>
<text x="364.1" y="263.06" font-size="3.6" class="sm" text-anchor="end">0.9</text>
<text x="0" y="0" font-size="4.8" class="sm" text-anchor="middle" transform="translate(354.5 307.9) rotate(-90)">Parameter value</text>
<path d="M389.5 385V386.4" stroke="#777" stroke-width="0.7"/>
<text x="389.5" y="390.5" font-size="3.8" class="sm" font-style="italic" text-anchor="middle">ALL</text>
<text x="389.5" y="394.7" font-size="3.8" class="sm" text-anchor="middle">(<tspan font-style="italic">n</tspan> = 15)</text>
<text x="389.5" y="398.8" font-size="3.8" class="sm" text-anchor="middle">Value = 1e-05</text>
<path d="M428.19 385V386.4" stroke="#777" stroke-width="0.7"/>
<text x="428.19" y="390.5" font-size="3.8" class="sm" font-style="italic" text-anchor="middle">ΔBBIF</text>
<text x="428.19" y="394.7" font-size="3.8" class="sm" text-anchor="middle">(<tspan font-style="italic">n</tspan> = 15)</text>
<text x="428.19" y="398.8" font-size="3.8" class="sm" text-anchor="middle">Value = 0.45186</text>
<path d="M466.88 385V386.4" stroke="#777" stroke-width="0.7"/>
<text x="466.88" y="390.5" font-size="3.8" class="sm" font-style="italic" text-anchor="middle">ΔBBRE</text>
<text x="466.88" y="394.7" font-size="3.8" class="sm" text-anchor="middle">(<tspan font-style="italic">n</tspan> = 20)</text>
<text x="466.88" y="398.8" font-size="3.8" class="sm" text-anchor="middle">Value = 0.05243</text>
<path d="M505.57 385V386.4" stroke="#777" stroke-width="0.7"/>
<text x="505.57" y="390.5" font-size="3.8" class="sm" font-style="italic" text-anchor="middle">ΔBINF</text>
<text x="505.57" y="394.7" font-size="3.8" class="sm" text-anchor="middle">(<tspan font-style="italic">n</tspan> = 20)</text>
<text x="505.57" y="398.8" font-size="3.8" class="sm" text-anchor="middle">Value = 0.24666</text>
<path d="M544.26 385V386.4" stroke="#777" stroke-width="0.7"/>
<text x="544.26" y="390.5" font-size="3.8" class="sm" font-style="italic" text-anchor="middle">ΔBTHE</text>
<text x="544.26" y="394.7" font-size="3.8" class="sm" text-anchor="middle">(<tspan font-style="italic">n</tspan> = 20)</text>
<text x="544.26" y="398.8" font-size="3.8" class="sm" text-anchor="middle">Value = 0.25846</text>
<path d="M582.95 385V386.4" stroke="#777" stroke-width="0.7"/>
<text x="582.95" y="390.5" font-size="3.8" class="sm" font-style="italic" text-anchor="middle">ΔBCOL</text>
<text x="582.95" y="394.7" font-size="3.8" class="sm" text-anchor="middle">(<tspan font-style="italic">n</tspan> = 17)</text>
<text x="582.95" y="398.8" font-size="3.8" class="sm" text-anchor="middle">Value = 0.02007</text>
<path d="M621.64 385V386.4" stroke="#777" stroke-width="0.7"/>
<text x="621.64" y="390.5" font-size="3.8" class="sm" font-style="italic" text-anchor="middle">ΔLSYN</text>
<text x="621.64" y="394.7" font-size="3.8" class="sm" text-anchor="middle">(<tspan font-style="italic">n</tspan> = 20)</text>
<text x="621.64" y="398.8" font-size="3.8" class="sm" text-anchor="middle">Value = 0.26787</text>
<path d="M660.33 385V386.4" stroke="#777" stroke-width="0.7"/>
<text x="660.33" y="390.5" font-size="3.8" class="sm" font-style="italic" text-anchor="middle">ΔPACI</text>
<text x="660.33" y="394.7" font-size="3.8" class="sm" text-anchor="middle">(<tspan font-style="italic">n</tspan> = 20)</text>
<text x="660.33" y="398.8" font-size="3.8" class="sm" text-anchor="middle">Value = 0.10651</text>
<path d="M582.95 239.8V238.2H621.64V239.8" fill="none" stroke="#555" stroke-width="0.75"/>
<text x="602.3" y="236.25" font-size="4.4" fill="#2a2a2a" text-anchor="middle">****</text>
<path d="M544.26 246.18V244.58H582.95V246.18" fill="none" stroke="#555" stroke-width="0.75"/>
<text x="563.61" y="242.63" font-size="4.4" fill="#2a2a2a" text-anchor="middle">****</text>
<path d="M505.57 252.56V250.96H582.95V252.56" fill="none" stroke="#555" stroke-width="0.75"/>
<text x="544.26" y="249.01" font-size="4.4" fill="#2a2a2a" text-anchor="middle">****</text>
<path d="M466.88 258.94V257.34H544.26V258.94" fill="none" stroke="#555" stroke-width="0.75"/>
<text x="505.57" y="255.39" font-size="4.4" fill="#2a2a2a" text-anchor="middle">****</text>
<path d="M466.88 265.32V263.72H505.57V265.32" fill="none" stroke="#555" stroke-width="0.75"/>
<text x="486.23" y="261.77" font-size="4.4" fill="#2a2a2a" text-anchor="middle">****</text>
<path d="M428.19 271.7V270.1H660.33V271.7" fill="none" stroke="#555" stroke-width="0.75"/>
<text x="544.26" y="268.15" font-size="4.4" fill="#2a2a2a" text-anchor="middle">****</text>
<path d="M428.19 278.08V276.48H582.95V278.08" fill="none" stroke="#555" stroke-width="0.75"/>
<text x="505.57" y="274.53" font-size="4.4" fill="#2a2a2a" text-anchor="middle">****</text>
<path d="M428.19 284.46V282.86H466.88V284.46" fill="none" stroke="#555" stroke-width="0.75"/>
<text x="447.53" y="280.91" font-size="4.4" fill="#2a2a2a" text-anchor="middle">****</text>
<path d="M389.5 290.84V289.24H621.64V290.84" fill="none" stroke="#555" stroke-width="0.75"/>
<text x="505.57" y="287.29" font-size="4.4" fill="#2a2a2a" text-anchor="middle">****</text>
<path d="M389.5 297.22V295.62H544.26V297.22" fill="none" stroke="#555" stroke-width="0.75"/>
<text x="466.88" y="293.67" font-size="4.4" fill="#2a2a2a" text-anchor="middle">****</text>
<path d="M389.5 303.6V302H505.57V303.6" fill="none" stroke="#555" stroke-width="0.75"/>
<text x="447.53" y="300.05" font-size="4.4" fill="#2a2a2a" text-anchor="middle">****</text>
<path d="M389.5 309.98V308.38H428.19V309.98" fill="none" stroke="#555" stroke-width="0.75"/>
<text x="408.85" y="306.43" font-size="4.4" fill="#2a2a2a" text-anchor="middle">****</text>
<path d="M383 378.3H389.4" stroke="#222" stroke-width="0.9"/>
<circle cx="389.5" cy="376" r="1.3" fill="#1B9E77" fill-opacity="0.55"/>
<circle cx="389.5" cy="378.3" r="2.6" fill="#a30e0e"/>
<rect x="392" y="375.6" width="29.81" height="6.3" rx="0.9" fill="#fff" stroke="#858585" stroke-width="0.6"/>
<text fill="#1a1a1a" stroke="#1a1a1a" stroke-width="0.06"><tspan x="393.5" y="377.9" font-size="2.4">μ̂</tspan><tspan x="393.3" y="380.35" font-size="2.9">median</tspan><tspan x="404.2" y="379.9" font-size="3.5">=</tspan><tspan x="406.6" y="379.9" font-size="3.5">1.00e-05</tspan></text>
<path d="M428.19 315.9V339" stroke="#333" stroke-width="0.6"/>
<path d="M421.9 315.9H428" stroke="#222" stroke-width="0.9"/>
<circle cx="428.59" cy="335.9" r="1.3" fill="#D95F02" fill-opacity="0.55"/>
<circle cx="427.69" cy="339.1" r="1.3" fill="#D95F02" fill-opacity="0.55"/>
<circle cx="428.19" cy="315.9" r="2.6" fill="#a30e0e"/>
<rect x="432" y="313" width="22.81" height="6.3" rx="0.9" fill="#fff" stroke="#858585" stroke-width="0.6"/>
<text fill="#1a1a1a" stroke="#1a1a1a" stroke-width="0.06"><tspan x="433.5" y="315.3" font-size="2.4">μ̂</tspan><tspan x="433.3" y="317.75" font-size="2.9">median</tspan><tspan x="444.2" y="317.3" font-size="3.5">=</tspan><tspan x="446.6" y="317.3" font-size="3.5">0.46</tspan></text>
<rect x="461" y="368.25" width="9.75" height="3.15" fill="none" stroke="#333" stroke-width="0.6"/>
<path d="M466.88 363.5V371" stroke="#333" stroke-width="0.6"/>
<path d="M461 371H470.75" stroke="#1a1a1a" stroke-width="1"/>
<circle cx="464.88" cy="363" r="1.3" fill="#7570B3" fill-opacity="0.55"/>
<circle cx="468.68" cy="363" r="1.3" fill="#7570B3" fill-opacity="0.55"/>
<circle cx="466.88" cy="363.5" r="1.3" fill="#7570B3" fill-opacity="0.55"/>
<circle cx="467.38" cy="366.75" r="1.3" fill="#7570B3" fill-opacity="0.55"/>
<circle cx="466.88" cy="371" r="2.6" fill="#a30e0e"/>
<rect x="470.8" y="368.2" width="22.81" height="6.3" rx="0.9" fill="#fff" stroke="#858585" stroke-width="0.6"/>
<text fill="#1a1a1a" stroke="#1a1a1a" stroke-width="0.06"><tspan x="472.3" y="370.5" font-size="2.4">μ̂</tspan><tspan x="472.1" y="372.95" font-size="2.9">median</tspan><tspan x="483" y="372.5" font-size="3.5">=</tspan><tspan x="485.4" y="372.5" font-size="3.5">0.05</tspan></text>
<path d="M505.57 336.2V351.2" stroke="#333" stroke-width="0.6"/>
<path d="M499.7 347H505.4" stroke="#222" stroke-width="0.9"/>
<circle cx="504.37" cy="336.2" r="1.3" fill="#E7298A" fill-opacity="0.55"/>
<circle cx="506.47" cy="351.5" r="1.3" fill="#E7298A" fill-opacity="0.55"/>
<circle cx="505.57" cy="347" r="2.6" fill="#a30e0e"/>
<rect x="509.7" y="344.2" width="22.81" height="6.3" rx="0.9" fill="#fff" stroke="#858585" stroke-width="0.6"/>
<text fill="#1a1a1a" stroke="#1a1a1a" stroke-width="0.06"><tspan x="511.2" y="346.5" font-size="2.4">μ̂</tspan><tspan x="511" y="348.95" font-size="2.9">median</tspan><tspan x="521.9" y="348.5" font-size="3.5">=</tspan><tspan x="524.3" y="348.5" font-size="3.5">0.24</tspan></text>
<rect x="538.25" y="342" width="10.25" height="5.75" fill="none" stroke="#333" stroke-width="0.6"/>
<path d="M544.26 340.5V348.5" stroke="#333" stroke-width="0.6"/>
<path d="M538.25 344.75H548.5" stroke="#1a1a1a" stroke-width="1"/>
<circle cx="543.56" cy="339.5" r="1.3" fill="#66A61E" fill-opacity="0.55"/>
<circle cx="545.56" cy="341" r="1.3" fill="#66A61E" fill-opacity="0.55"/>
<circle cx="542.76" cy="348.5" r="1.3" fill="#66A61E" fill-opacity="0.55"/>
<circle cx="545.96" cy="348.5" r="1.3" fill="#66A61E" fill-opacity="0.55"/>
<circle cx="544.76" cy="346.5" r="1.3" fill="#66A61E" fill-opacity="0.55"/>
<circle cx="543.06" cy="343" r="1.3" fill="#66A61E" fill-opacity="0.55"/>
<circle cx="544.26" cy="344.75" r="2.6" fill="#a30e0e"/>
<rect x="548.6" y="341.7" width="22.81" height="6.3" rx="0.9" fill="#fff" stroke="#858585" stroke-width="0.6"/>
<text fill="#1a1a1a" stroke="#1a1a1a" stroke-width="0.06"><tspan x="550.1" y="344" font-size="2.4">μ̂</tspan><tspan x="549.9" y="346.45" font-size="2.9">median</tspan><tspan x="560.8" y="346" font-size="3.5">=</tspan><tspan x="563.2" y="346" font-size="3.5">0.26</tspan></text>
<path d="M582.95 371V377.25" stroke="#333" stroke-width="0.6"/>
<path d="M577 377.25H586.9" stroke="#222" stroke-width="0.9"/>
<circle cx="581.65" cy="371.2" r="1.3" fill="#E6AB02" fill-opacity="0.55"/>
<circle cx="582.95" cy="377.25" r="2.6" fill="#a30e0e"/>
<rect x="587.8" y="374.4" width="22.81" height="6.3" rx="0.9" fill="#fff" stroke="#858585" stroke-width="0.6"/>
<text fill="#1a1a1a" stroke="#1a1a1a" stroke-width="0.06"><tspan x="589.3" y="376.7" font-size="2.4">μ̂</tspan><tspan x="589.1" y="379.15" font-size="2.9">median</tspan><tspan x="600" y="378.7" font-size="3.5">=</tspan><tspan x="602.4" y="378.7" font-size="3.5">0.01</tspan></text>
<rect x="616" y="347" width="9.7" height="2.7" fill="none" stroke="#333" stroke-width="0.6"/>
<path d="M621.64 342.6V353.6" stroke="#333" stroke-width="0.6"/>
<path d="M616 348.1H625.7" stroke="#1a1a1a" stroke-width="1"/>
<circle cx="620.54" cy="343.4" r="1.3" fill="#A6761D" fill-opacity="0.55"/>
<circle cx="621.34" cy="352.8" r="1.3" fill="#A6761D" fill-opacity="0.55"/>
<circle cx="621.64" cy="348.1" r="2.6" fill="#a30e0e"/>
<rect x="626.4" y="345" width="22.81" height="6.3" rx="0.9" fill="#fff" stroke="#858585" stroke-width="0.6"/>
<text fill="#1a1a1a" stroke="#1a1a1a" stroke-width="0.06"><tspan x="627.9" y="347.3" font-size="2.4">μ̂</tspan><tspan x="627.7" y="349.75" font-size="2.9">median</tspan><tspan x="638.6" y="349.3" font-size="3.5">=</tspan><tspan x="641" y="349.3" font-size="3.5">0.24</tspan></text>
<path d="M660.33 352.6V368.7" stroke="#333" stroke-width="0.6"/>
<path d="M650.9 368.7H670.5" stroke="#222" stroke-width="0.9"/>
<circle cx="660.33" cy="352.6" r="1.3" fill="#333" fill-opacity="0.55"/>
<circle cx="660.63" cy="353.2" r="1.3" fill="#333" fill-opacity="0.55"/>
<circle cx="660.33" cy="368.7" r="2.6" fill="#a30e0e"/>
<rect x="659.3" y="360.9" width="22.81" height="6.3" rx="0.9" fill="#fff" stroke="#858585" stroke-width="0.6"/>
<text fill="#1a1a1a" stroke="#1a1a1a" stroke-width="0.06"><tspan x="660.8" y="363.2" font-size="2.4">μ̂</tspan><tspan x="660.6" y="365.65" font-size="2.9">median</tspan><tspan x="671.5" y="365.2" font-size="3.5">=</tspan><tspan x="673.9" y="365.2" font-size="3.5">0.08</tspan></text>
</svg></body></html>
